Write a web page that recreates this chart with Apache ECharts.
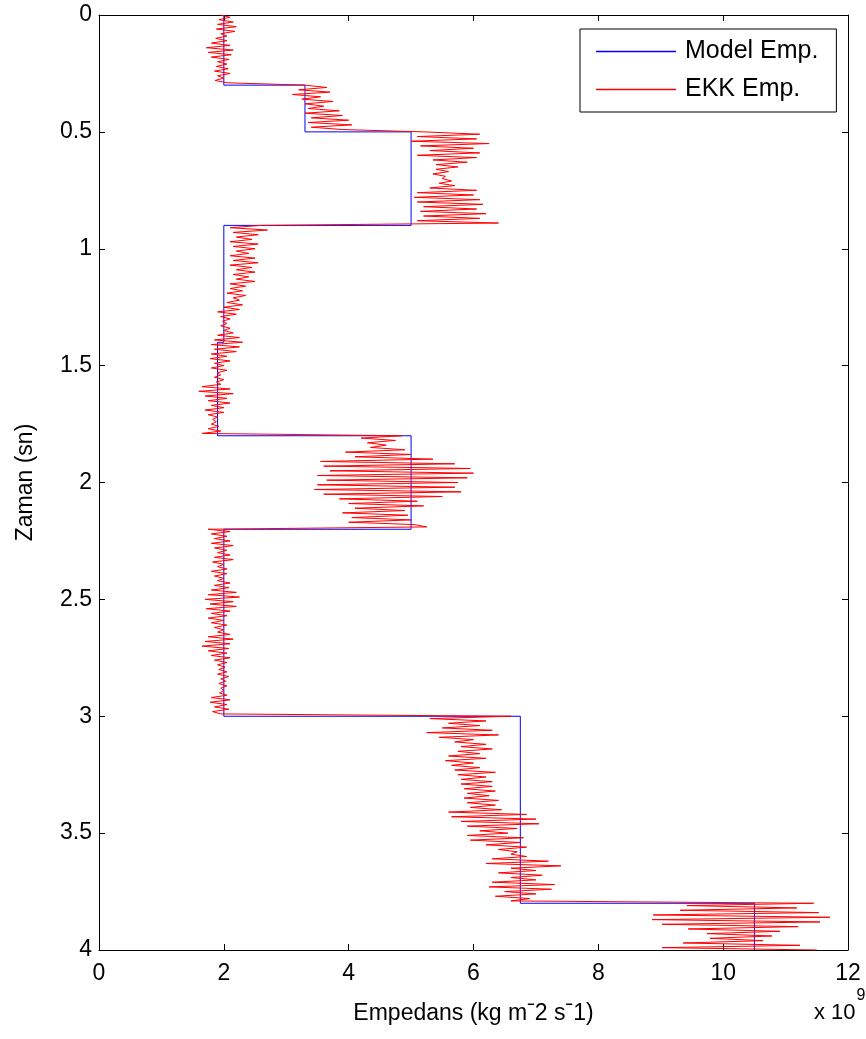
<!DOCTYPE html>
<html>
<head>
<meta charset="utf-8">
<title>Empedans - Zaman</title>
<script src="https://cdn.jsdelivr.net/npm/echarts@6/dist/echarts.min.js"></script>
<style>
  html, body { margin: 0; padding: 0; background: #ffffff; }
  #chart { width: 866px; height: 1039px; }
</style>
</head>
<body>
<div id="chart"></div>
<script>
// Time sampling of the estimated impedance trace (sn)
const timeStep = 0.01;

// Estimated impedance (EKK Emp.), units of 1e9 kg m^-2 s^-1, one value per time sample
const ekk000 = [1.95, 2.1, 1.92, 2.15, 1.9, 2.2, 1.88, 2.18, 1.95, 2.05, 1.87,
  2.05, 1.8, 2.1, 1.72, 2.15, 1.75, 2.12, 1.8, 2.08, 1.9,
  2.05, 1.88, 2.07, 1.85, 2.1, 1.9, 2.0, 1.86, 2.05];
const ekk030 = [3.3, 3.65, 3.2, 3.7, 3.1, 3.55, 3.25, 3.75, 3.3, 3.6,
  3.35, 3.85, 3.3, 3.9, 3.4, 4.0, 3.35, 4.05, 3.4, 3.9];
const ekk050 = [5.2,
  6.1, 5.1, 6.05, 5.0, 6.25, 5.15, 6.0, 5.3, 6.1, 5.1, 6.05, 5.35, 5.9, 5.4,
  5.75, 5.4, 5.6, 5.35, 5.55, 5.5, 5.65, 5.45, 5.7,
  5.3, 6.05, 5.1, 6.0, 5.05, 6.1, 5.1, 6.15, 5.2, 6.05, 5.15, 6.2, 5.2, 6.1, 5.1, 6.4];
const ekk090 = [2.6, 2.1, 2.7, 2.15, 2.55, 2.2, 2.45,
  2.1, 2.55, 2.15, 2.5, 2.2, 2.4, 2.1,
  2.5, 2.15, 2.55, 2.1, 2.45, 2.2, 2.5, 2.15, 2.4, 2.2, 2.5, 2.1, 2.35,
  2.1, 2.3, 2.05, 2.35, 2.15, 2.25, 2.05, 2.3, 2.0,
  2.25, 1.9, 2.2, 1.95, 2.1, 1.98, 2.05, 1.95, 2.1, 2.0, 2.15, 1.9, 2.25, 1.85];
const ekk140 = [2.3, 1.8, 2.25, 1.85, 2.2,
  1.8, 2.05, 1.78, 2.1, 1.85, 2.0, 1.8, 2.05, 1.9, 1.95, 1.85, 2.0, 1.88, 1.95,
  1.65, 2.1, 1.6, 2.15, 1.7, 2.05, 1.75, 2.1, 1.8, 2.0,
  1.7, 2.0, 1.75, 1.9, 1.82, 1.88, 1.8, 1.92, 1.75, 1.95, 1.65];
const ekk180 = [4.85, 4.2, 4.75, 4.3, 4.6, 4.35,
  4.9, 3.95, 5.0, 4.1, 5.35,
  3.55, 5.7, 3.6, 5.95, 3.7, 6.0, 3.5, 5.9, 3.65,
  5.75, 3.5, 5.7, 3.45, 5.8, 3.6, 5.5, 3.85,
  5.1, 4.0, 5.2, 4.1, 4.9, 3.9, 4.95, 4.05, 5.0, 4.0, 5.05, 5.25];
const ekk220 = [1.75, 2.1, 1.8, 2.05, 1.85, 2.1, 1.8, 2.15, 1.85, 2.05, 1.9,
  2.1, 1.85, 2.15, 1.82, 2.0, 1.9, 2.05, 1.8, 2.05, 1.85, 2.0, 1.9, 2.1, 1.85, 2.08,
  1.8, 2.2, 1.75, 2.25, 1.7, 2.15, 1.78, 2.2, 1.72, 2.1, 1.8, 2.05, 1.75, 2.0, 1.8,
  2.05, 1.85, 2.0, 1.9, 2.1, 1.75, 2.15, 1.7, 2.1, 1.65, 2.08, 1.75, 2.05, 1.8, 2.1,
  1.85, 2.05, 1.9, 2.02, 1.92, 2.05, 1.9, 2.08, 1.95, 2.03, 1.92, 2.05, 1.95, 2.0, 1.93,
  2.05, 1.8, 2.1, 1.78, 2.05, 1.85, 2.08, 1.82, 1.95];
const ekk300 = [6.6, 5.3, 6.2, 5.6, 6.1, 5.5, 6.3, 5.25, 6.4, 5.45, 6.0, 5.7,
  6.2, 5.8, 6.3, 5.75, 6.1, 5.6, 6.2, 5.55, 6.0, 5.65, 6.1, 5.7, 6.35, 5.75,
  6.2, 5.8, 6.3, 5.8, 6.3, 5.85, 6.35, 5.9, 6.25, 5.85, 6.4, 5.9, 6.35, 5.95, 6.45,
  5.6, 6.85, 5.65, 7.0, 5.8, 7.05, 5.9, 6.7, 6.1, 6.55, 5.9, 6.8, 5.95,
  6.75, 6.2, 6.85, 6.4, 6.7, 6.6, 6.85, 6.3, 7.2, 6.2, 7.4, 6.6,
  7.0, 6.4, 7.1, 6.6, 7.0, 6.3, 7.3, 6.25, 7.25, 6.5, 7.0, 6.35, 6.9, 6.6];
const ekk380 = [11.45, 9.42, 11.18, 9.31, 11.53, 8.88, 11.71, 8.86, 11.55, 9.02, 11.2,
  9.44, 10.91, 9.74, 10.78, 9.79, 10.64, 9.36, 11.23, 9.02, 11.5];

// Model impedance: layer boundaries (sn) and layer values (1e9 kg m^-2 s^-1)
const modelBounds = [0, 0.3, 0.5, 0.9, 1.4, 1.8, 2.2, 3.0, 3.8, 4.0];
const modelValues = [2, 3.3, 5, 2, 1.9, 5, 2, 6.75, 10.5];

// Axis ticks
const xTicks = { min: 0, max: 12, interval: 2 };
const yTicks = { min: 0, max: 4, interval: 0.5 };

const MODEL_COLOR = '#0000ff';
const EKK_COLOR = '#ff0000';

const ekkValues = [].concat(ekk000, ekk030, ekk050, ekk090, ekk140, ekk180, ekk220, ekk300, ekk380);
const ekkData = ekkValues.map((v, i) => [v, +(i * timeStep).toFixed(4)]);

const modelData = [];
modelValues.forEach((v, i) => {
  modelData.push([v, modelBounds[i]]);
  modelData.push([v, modelBounds[i + 1]]);
});

const FONT = "'Liberation Sans', Arial, Helvetica, sans-serif";
const tickFont = { color: '#000', fontFamily: FONT, fontSize: 23 };

const chart = echarts.init(document.getElementById('chart'), null, { renderer: 'canvas' });

const frameAxisX = (pos, labels) => ({
  type: 'value', position: pos, min: xTicks.min, max: xTicks.max, interval: xTicks.interval,
  axisLine: { show: true, onZero: false, lineStyle: { color: '#000', width: 1 } },
  axisTick: { show: true, inside: true, length: 6, lineStyle: { color: '#000' } },
  axisLabel: Object.assign({ show: labels, margin: 12 }, tickFont),
  splitLine: { show: false }
});
const frameAxisY = (pos, labels) => ({
  type: 'value', position: pos, inverse: true, min: yTicks.min, max: yTicks.max, interval: yTicks.interval,
  axisLine: { show: true, onZero: false, lineStyle: { color: '#000', width: 1 } },
  axisTick: { show: true, inside: true, length: 6, lineStyle: { color: '#000' } },
  axisLabel: Object.assign({ show: labels, margin: 7 }, tickFont),
  splitLine: { show: false }
});

const xBottom = frameAxisX('bottom', true);
xBottom.name = 'Empedans (kg m\u02C92 s\u02C91)';
xBottom.nameLocation = 'middle';
xBottom.nameGap = 52;
xBottom.nameTextStyle = { color: '#000', fontFamily: FONT, fontSize: 23 };

const yLeft = frameAxisY('left', true);
yLeft.name = 'Zaman (sn)';
yLeft.nameLocation = 'middle';
yLeft.nameGap = 62;
yLeft.nameTextStyle = { color: '#000', fontFamily: FONT, fontSize: 23 };

const legendEntry = (name, color) => ({
  name,
  itemStyle: { color, borderWidth: 0, borderColor: color },
  lineStyle: { color, width: 0 }
});

chart.setOption({
  animation: false,
  backgroundColor: '#ffffff',
  grid: { left: 99, right: 18, top: 15, bottom: 89, containLabel: false },
  xAxis: [xBottom, frameAxisX('top', false)],
  yAxis: [yLeft, frameAxisY('right', false)],
  legend: {
    left: 580, top: 29, orient: 'vertical',
    data: [legendEntry('Model Emp.', MODEL_COLOR), legendEntry('EKK Emp.', EKK_COLOR)],
    icon: 'rect', itemWidth: 80, itemHeight: 1.5, itemGap: 13,
    itemStyle: { borderWidth: 0 },
    padding: [10, 18, 10, 16],
    borderColor: '#000', borderWidth: 1, backgroundColor: '#fff',
    textStyle: { color: '#000', fontFamily: FONT, fontSize: 25, padding: [0, 0, 0, 4] }
  },
  graphic: [{
    type: 'text', left: 814, top: 988,
    style: {
      text: '{b|x 10}{s|9}',
      rich: {
        b: { fontFamily: FONT, fontSize: 22, fill: '#000', padding: [14, 0, 0, 0] },
        s: { fontFamily: FONT, fontSize: 16, fill: '#000', verticalAlign: 'top', padding: [0, 0, 12, 1] }
      }
    }
  }],
  series: [
    {
      name: 'Model Emp.', type: 'line', xAxisIndex: 0, yAxisIndex: 0,
      data: modelData, symbol: 'none', silent: true, color: MODEL_COLOR,
      lineStyle: { color: MODEL_COLOR, width: 1 }, itemStyle: { color: MODEL_COLOR }
    },
    {
      name: 'EKK Emp.', type: 'line', xAxisIndex: 0, yAxisIndex: 0,
      data: ekkData, symbol: 'none', silent: true, color: EKK_COLOR,
      lineStyle: { color: EKK_COLOR, width: 1 }, itemStyle: { color: EKK_COLOR }
    }
  ]
});
</script>
</body>
</html>
